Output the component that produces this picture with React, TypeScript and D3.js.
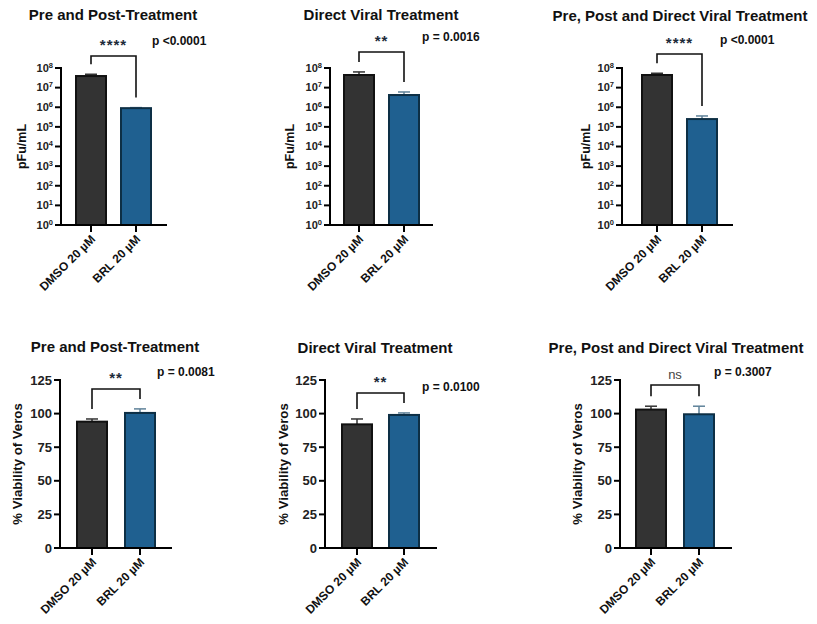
import React from "react";
import * as d3 from "d3";

// groups on the x axis
const categories = ["DMSO 20 µM", "BRL 20 µM"];

// plaque assay (pFu/mL), mean and SD
const pfuPrePost = [3.9e7, 9.0e5];
const pfuPrePostSd = [0.9e7, 0.6e5];
const pfuDirect = [4.4e7, 4.2e6];
const pfuDirectSd = [1.9e7, 1.8e6];
const pfuAll = [4.4e7, 2.5e5];
const pfuAllSd = [1.0e7, 1.1e5];

// cell viability (%), mean and SD
const viaPrePost = [94, 100.5];
const viaPrePostSd = [2, 3];
const viaDirect = [92, 99];
const viaDirectSd = [4, 1.5];
const viaAll = [103, 99.5];
const viaAllSd = [2.5, 6];

const logTicks = [1, 10, 100, 1e3, 1e4, 1e5, 1e6, 1e7, 1e8];
const viaTicks = [0, 25, 50, 75, 100, 125];

const titles = [
  "Pre and Post-Treatment",
  "Direct Viral Treatment",
  "Pre, Post and Direct Viral Treatment",
];
const starLabels = ["****", "**", "****", "**", "**", "ns"];
const pLabels = ["p <0.0001", "p = 0.0016", "p <0.0001", "p = 0.0081", "p = 0.0100", "p = 0.3007"];

const FONT = "'Liberation Sans', Arial, sans-serif";
const barFill = ["#333333", "#1f6090"];
const barStroke = ["#111111", "#0d2f45"];
const errColor = ["#333333", "#5f8299"];

type PanelCfg = {
  kind: "log" | "lin";
  title: string;
  values: number[];
  sd: number[];
  stars: string;
  p: string;
  x0: number;
  x1: number;
  c1: number;
  c2: number;
  bracketTop: number;
  titleX: number;
  titleY: number;
  yLabelDx: number;
  pX: number;
  pY: number;
};

const panels: PanelCfg[] = [
  { kind: "log", title: titles[0], values: pfuPrePost, sd: pfuPrePostSd, stars: starLabels[0], p: pLabels[0],
    x0: 61, x1: 167, c1: 30, c2: 75, bracketTop: 56, titleX: 113, titleY: 20, yLabelDx: -39, pX: 152, pY: 45 },
  { kind: "log", title: titles[1], values: pfuDirect, sd: pfuDirectSd, stars: starLabels[1], p: pLabels[1],
    x0: 330, x1: 433, c1: 29, c2: 74, bracketTop: 52, titleX: 381, titleY: 20, yLabelDx: -40, pX: 422, pY: 41 },
  { kind: "log", title: titles[2], values: pfuAll, sd: pfuAllSd, stars: starLabels[2], p: pLabels[2],
    x0: 622, x1: 733, c1: 35, c2: 80, bracketTop: 54, titleX: 680, titleY: 21, yLabelDx: -36, pX: 720, pY: 44 },
  { kind: "lin", title: titles[0], values: viaPrePost, sd: viaPrePostSd, stars: starLabels[3], p: pLabels[3],
    x0: 60, x1: 172, c1: 32, c2: 80, bracketTop: 389, titleX: 115, titleY: 352, yLabelDx: -43, pX: 157, pY: 376 },
  { kind: "lin", title: titles[1], values: viaDirect, sd: viaDirectSd, stars: starLabels[4], p: pLabels[4],
    x0: 325, x1: 437, c1: 32, c2: 79, bracketTop: 393, titleX: 375, titleY: 353, yLabelDx: -42, pX: 422, pY: 391 },
  { kind: "lin", title: titles[2], values: viaAll, sd: viaAllSd, stars: starLabels[5], p: pLabels[5],
    x0: 620, x1: 732, c1: 31, c2: 79, bracketTop: 385, titleX: 676, titleY: 353, yLabelDx: -43, pX: 714, pY: 376 },
];

function Panel({ cfg }: { cfg: PanelCfg }) {
  const isLog = cfg.kind === "log";
  const yBottom = isLog ? 225 : 548;
  const yTop = isLog ? 68 : 380;
  const y: (v: number) => number = isLog
    ? d3.scaleLog().domain([1, 1e8]).range([yBottom, yTop])
    : d3.scaleLinear().domain([0, 125]).range([yBottom, yTop]);
  const x = d3.scalePoint<string>().domain(categories).range([cfg.x0 + cfg.c1, cfg.x0 + cfg.c2]);
  const ticks = isLog ? logTicks : viaTicks;
  const barW = 30;
  const errTop = cfg.values.map((v, i) => y(v + cfg.sd[i]));
  const legEnd = errTop.map((t) => t - 10);
  const cx = categories.map((c) => x(c) as number);
  const yMid = (yBottom + yTop) / 2;
  const isNs = cfg.stars === "ns";

  return (
    <g fontFamily={FONT}>
      <text x={cfg.titleX} y={cfg.titleY} textAnchor="middle" fontSize={15} fontWeight="bold" fill="#111">
        {cfg.title}
      </text>
      {/* bars */}
      {categories.map((c, i) => (
        <g key={c}>
          <line x1={cx[i]} x2={cx[i]} y1={y(cfg.values[i])} y2={errTop[i]} stroke={errColor[i]} strokeWidth={1.5} />
          <line x1={cx[i] - 6} x2={cx[i] + 6} y1={errTop[i]} y2={errTop[i]} stroke={errColor[i]} strokeWidth={1.5} />
          <rect
            x={cx[i] - barW / 2}
            y={y(cfg.values[i])}
            width={barW}
            height={yBottom - y(cfg.values[i])}
            fill={barFill[i]}
            stroke={barStroke[i]}
            strokeWidth={2}
          />
        </g>
      ))}
      {/* y axis */}
      <line x1={cfg.x0} x2={cfg.x0} y1={yTop - 1} y2={yBottom} stroke="#000" strokeWidth={2} />
      {ticks.map((t) => (
        <g key={t} transform={`translate(${cfg.x0},${y(t)})`}>
          <line x1={-6} x2={0} stroke="#000" strokeWidth={2} />
          <text x={-8} dy="0.35em" textAnchor="end" fontSize={isLog ? 11 : 13} fontWeight="bold" fill="#222">
            {isLog ? (
              <>
                10
                <tspan fontSize={7.5} dy="-4">{Math.round(Math.log10(t))}</tspan>
              </>
            ) : (
              t
            )}
          </text>
        </g>
      ))}
      <text
        transform={`translate(${cfg.x0 + cfg.yLabelDx},${yMid}) rotate(-90)`}
        textAnchor="middle"
        dy="0.35em"
        fontSize={isLog ? 12.5 : 13.2}
        fontWeight="bold"
        fill="#111"
      >
        {isLog ? "pFu/mL" : "% Viability of Veros"}
      </text>
      {/* x axis */}
      <line x1={cfg.x0 - 1} x2={cfg.x1} y1={yBottom} y2={yBottom} stroke="#000" strokeWidth={2} />
      {categories.map((c, i) => (
        <g key={c}>
          <line x1={cx[i]} x2={cx[i]} y1={yBottom} y2={yBottom + 7} stroke="#000" strokeWidth={2} />
          <text
            transform={`translate(${cx[i] + 5},${yBottom + 15}) rotate(-45)`}
            textAnchor="end"
            fontSize={12}
            fontWeight="bold"
            fill="#111"
          >
            {c}
          </text>
        </g>
      ))}
      {/* significance bracket */}
      <path
        d={`M${cx[0]},${legEnd[0]}V${cfg.bracketTop}H${cx[1]}V${legEnd[1]}`}
        fill="none"
        stroke="#111"
        strokeWidth={1.6}
      />
      <text
        x={(cx[0] + cx[1]) / 2}
        y={cfg.bracketTop - 6}
        textAnchor="middle"
        fontSize={isNs ? 13 : 15}
        fontWeight={isNs ? "normal" : "bold"}
        fill={isNs ? "#444" : "#1d2b3a"}
        letterSpacing={isNs ? 0 : 1}
      >
        {cfg.stars}
      </text>
      <text x={cfg.pX} y={cfg.pY} fontSize={12} fontWeight="bold" fill="#111">
        {cfg.p}
      </text>
    </g>
  );
}

export default function App() {
  return (
    <svg width={817} height={624} style={{ position: "absolute", left: 0, top: 0, background: "#fff" }}>
      <rect width={817} height={624} fill="#fff" />
      {panels.map((p, i) => (
        <Panel key={i} cfg={p} />
      ))}
    </svg>
  );
}
